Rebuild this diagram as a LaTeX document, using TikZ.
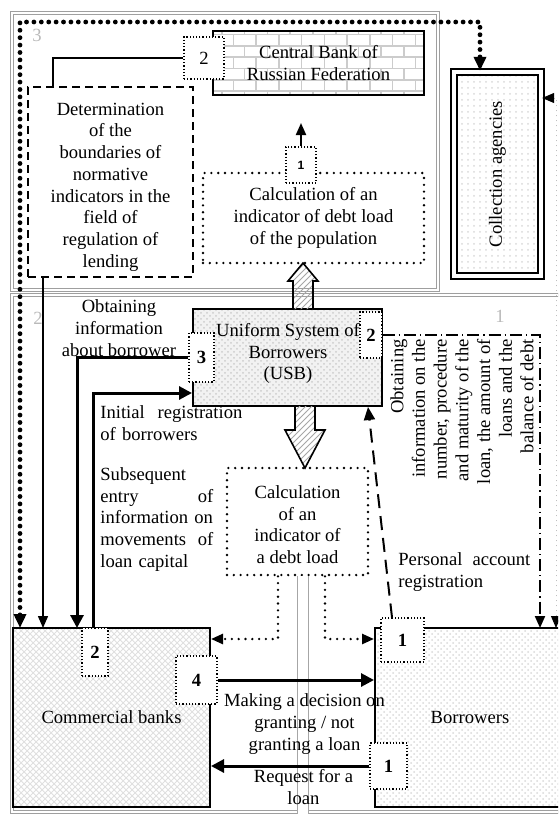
\documentclass[tikz,border=0pt]{standalone}
\usepackage{fontspec}
\setmainfont{Liberation Serif}
\newfontfamily\numfont{Liberation Sans}
\usetikzlibrary{positioning}
\usetikzlibrary{arrows.meta}
\usetikzlibrary{patterns}

\begin{document}
\begin{tikzpicture}[x=0.5pt,y=-0.5pt,
 font=\fontsize{9.3}{10.85}\selectfont,
 region/.style={draw=gray!75,double=white,double distance=0.9pt,line width=0.4pt},
 regnum/.style={text=gray!55},
 solidbox/.style={draw,line width=1pt},
 numbox/.style={draw,densely dotted,line width=0.6pt,fill=white,inner sep=0pt,font=\fontsize{9.3}{10.85}\selectfont\bfseries},
 dotbox/.style={draw,line width=1.3pt,line cap=round,dash pattern=on 0pt off 3.4pt,fill=white},
 dashbox/.style={draw,line width=0.8pt,dash pattern=on 4pt off 2.5pt},
 hollow/.style={draw,line width=0.8pt,pattern=north east lines,pattern color=gray!70},
 thickarrow/.style={line width=1.5pt,-{Triangle[length=6.5pt,width=6.5pt]}},
 thinarrow/.style={line width=0.7pt,-{Triangle[length=6pt,width=5pt]}},
 bigdots/.style={line width=2.4pt,line cap=round,dash pattern=on 0pt off 3.7pt},
 smalldots/.style={line width=1.3pt,line cap=round,dash pattern=on 0pt off 3.4pt},
 dashdot/.style={line width=1pt,dash pattern=on 6pt off 2pt on 0.6pt off 2pt},
 longdash/.style={line width=1pt,dash pattern=on 7pt off 4pt},
]
\useasboundingbox (0,0) rectangle (558,814);
\clip (0,0) rectangle (558,814);

% regions
\draw[region] (12,13) rectangle (438,290);
\draw[region] (12,295) rectangle (570,812);
\node[regnum] (reg3) at (37,35) {3};
\node[regnum] (reg2) at (38,318) {2};
\node[regnum] (reg1) at (500,316) {1};

% level 3
\node[solidbox,pattern=bricks,pattern color=gray!40,minimum width=105.5pt,minimum height=32pt,align=center] (cbr) at (318.5,63) {Central Bank of\\Russian Federation};
\node[numbox,font=\fontsize{9.3}{10.85}\selectfont,minimum width=20pt,minimum height=21pt] (cbrnum) at (204,58) {2};
\node[dashbox,minimum width=82.5pt,minimum height=95pt] (det) at (110.5,182) {};
\node[align=center] (dettext) at (110.5,187) {Determination\\of the\\boundaries of\\normative\\indicators in the\\field of\\regulation of\\lending};
\node[dotbox,minimum width=110.5pt,minimum height=45pt,align=center] (pop) at (313.5,218) {Calculation of an\\indicator of debt load\\of the population};
\node[numbox,minimum width=15pt,minimum height=18pt,font=\numfont\fontsize{6}{7}\selectfont\bfseries] (popnum) at (301,165) {1};
\node[draw,line width=1.2pt,double,double distance=1.6pt,pattern=dots,pattern color=gray!30,minimum width=43.5pt,minimum height=102pt] (coll) at (497.5,174) {};
\node[rotate=90] (colltext) at (coll.center) {Collection agencies};

% level 2 / 1
\node[solidbox,preaction={fill=gray!10},pattern=crosshatch dots,pattern color=gray!40,minimum width=94.5pt,minimum height=48.5pt] (usb) at (287.5,357.5) {};
\node[align=center] (usbtext) at (288,353.5) {Uniform System of\\Borrowers\\(USB)};
\node[numbox,minimum width=12.5pt,minimum height=24.5pt] (usb3) at (201.5,357.5) {3};
\node[numbox,minimum width=11pt,minimum height=23pt] (usb2) at (371,335) {2};
\node[dotbox,minimum width=70.5pt,minimum height=53.5pt] (debt) at (297.5,521.5) {};
\node[align=center] (debttext) at (297.5,524.5) {Calculation\\of an\\indicator of\\a debt load};
\node[solidbox,pattern=crosshatch,pattern color=gray!25,minimum width=98.5pt,minimum height=89.5pt] (banks) at (111.5,717.5) {Commercial banks};
\node[numbox,minimum width=13pt,minimum height=24pt] (banks2) at (95,652) {2};
\node[numbox,minimum width=20.5pt,minimum height=24pt] (banks4) at (196.5,680) {4};
\node[solidbox,pattern=crosshatch dots,pattern color=gray!30,minimum width=95pt,minimum height=89.5pt] (borr) at (470,717.5) {Borrowers};
\node[numbox,minimum width=21.5pt,minimum height=22pt] (borr1a) at (402.5,640) {1};
\node[numbox,minimum width=18.5pt,minimum height=23pt] (borr1b) at (388.5,766) {1};

\coordinate (b20) at (20,628);
\coordinate (b43) at (43,628);
\coordinate (b77) at (77,628);
\coordinate (b93) at (93,628);
\coordinate (b540) at (540,628);
\coordinate (b556) at (556,628);
\coordinate (dotcorner) at (480,22);
\coordinate (poptip) at (301,123);

% big arrows
\draw[hollow] (293,309) -- (293,281) -- (288,281) -- (303,263) -- (318,281) -- (313,281) -- (313,309);
\draw[hollow] (295,406) -- (295,430) -- (285,430) -- (305,468) -- (325,430) -- (315,430) -- (315,406);
\draw[gray!70,line width=0.5pt,double=white,double distance=5pt] ([xshift=2.5pt]debt.south) -- ++(0,250);

% connectors
\draw[bigdots,{Triangle[length=7pt,width=6pt]}-{Triangle[length=7pt,width=6pt]}] (b20) |- (dotcorner) -- (dotcorner |- coll.north);
\draw[line width=0.8pt] (cbrnum.west) -| ([xshift=-28.75pt]det.north);
\draw[thinarrow] (det.south -| b43) -- (b43);
\draw[thinarrow,line width=1pt] (popnum.north) -- (poptip);
\draw[thickarrow] (usb3.west) -| (b77);
\draw[thickarrow] (b93) |- ([yshift=-17.75pt]usb.west);
\draw[dashdot,-{Triangle[length=6pt,width=5pt]}] (usb2.east) -| (b540);
\draw[gray!50,line width=0.5pt,dotted,{Triangle[length=6pt,width=5pt,color=black]}-{Triangle[length=6pt,width=5pt,color=black]}] (b556) |- ([yshift=38pt]coll.east);
\draw[smalldots,-{Triangle[length=6pt,width=5pt]}] ([xshift=-9.75pt]debt.south) |- ([yshift=39.25pt]banks.east);
\draw[smalldots,-{Triangle[length=6pt,width=5pt]}] ([xshift=13.75pt]debt.south) |- ([yshift=39.25pt]borr.west);
\draw[thickarrow] (banks4.east) -- (banks4.east -| borr.west);
\draw[thickarrow] (borr1b.west) -- (borr1b.west -| banks.east);
\draw[longdash,-{Triangle[length=6.5pt,width=5.5pt]}] ([xshift=-5.25pt]borr1a.north) -- ([xshift=40.25pt]usb.south);

% labels
\node[align=center] (obtlabel) at (119,328) {Obtaining\\information\\about borrower};
\node[text width=71pt,align=left,inner sep=0pt,anchor=west] (initlabel) at (100,423) {Initial\hfill registration\\of borrowers};
\node[text width=56.5pt,align=left,inner sep=0pt,anchor=west] (subslabel) at (100,519.5) {Subsequent\\entry\hfill of\\information on\\movements\hfill of\\loan capital};
\node[align=center] (makelabel) at (304.5,724) {Making a decision on\\granting / not\\granting a loan};
\node[align=center] (reqlabel) at (303.5,787) {Request for a\\loan};
\node[text width=66pt,align=left,inner sep=0pt,anchor=west] (perslabel) at (398,572) {Personal\hfill account\\registration};
\node[rotate=90,anchor=east,align=right,inner sep=0pt] (infolabel) at (462,339) {Obtaining\\information on the\\number, procedure\\and maturity of the\\loan, the amount of\\loans and the\\balance of debt};
\end{tikzpicture}
\end{document}
